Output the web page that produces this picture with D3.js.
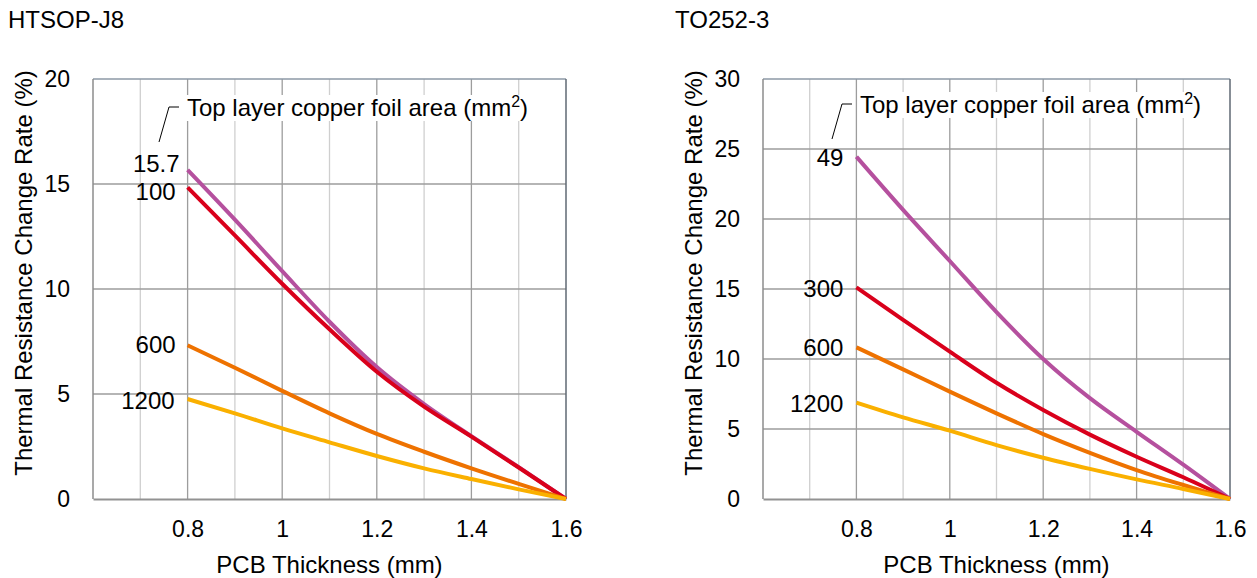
<!DOCTYPE html>
<html>
<head>
<meta charset="utf-8">
<script src="https://cdn.jsdelivr.net/npm/d3@7/dist/d3.min.js"></script>
<style>
  html, body { margin: 0; padding: 0; background: #fff; }
  svg { display: block; font-family: "Liberation Sans", Arial, sans-serif; }
</style>
</head>
<body>
<svg id="chart" width="1257" height="578"></svg>
<script>
// PCB thickness (mm) sample points shared by both packages
const thickness = [0.8, 0.9, 1.0, 1.1, 1.2, 1.3, 1.4, 1.5, 1.6];
const xTickValues = [0.8, 1, 1.2, 1.4, 1.6];

// HTSOP-J8: thermal resistance change rate (%) per top-layer copper area
const htsopAreas = ["15.7", "100", "600", "1200"];
const htsopArea15_7 = [15.67, 13.3, 10.85, 8.44, 6.28, 4.52, 2.99, 1.52, 0];
const htsopArea100  = [14.84, 12.55, 10.25, 8.08, 6.06, 4.4, 2.97, 1.5, 0];
const htsopArea600  = [7.32, 6.25, 5.15, 4.08, 3.1, 2.25, 1.46, 0.72, 0];
const htsopArea1200 = [4.76, 4.08, 3.36, 2.7, 2.05, 1.46, 0.95, 0.46, 0];
const htsopYTicks = [0, 5, 10, 15, 20];

// TO252-3
const to252Areas = ["49", "300", "600", "1200"];
const to252Area49   = [24.45, 20.65, 17.0, 13.35, 10.0, 7.2, 4.8, 2.45, 0];
const to252Area300  = [15.12, 12.79, 10.52, 8.3, 6.36, 4.6, 3.02, 1.55, 0];
const to252Area600  = [10.83, 9.26, 7.67, 6.12, 4.64, 3.3, 2.07, 1.0, 0];
const to252Area1200 = [6.88, 5.83, 4.88, 3.85, 2.95, 2.15, 1.4, 0.72, 0];
const to252YTicks = [0, 5, 10, 15, 20, 25, 30];

const seriesColors = ["#B5509E", "#D9001B", "#EE7200", "#FAB000"];

const svg = d3.select("#chart");

function drawPanel(cfg) {
  const g = svg.append("g");
  const x = d3.scaleLinear().domain([0.6, 1.6]).range([cfg.left, cfg.right]);
  const y = d3.scaleLinear().domain([0, cfg.yMax]).range([cfg.bottom, cfg.top]);

  // minor vertical grid (odd tenths)
  const minor = d3.range(7, 16, 2).map(v => v / 10);
  g.selectAll(".minor").data(minor).enter().append("line")
    .attr("x1", d => x(d)).attr("x2", d => x(d))
    .attr("y1", cfg.top).attr("y2", cfg.bottom)
    .attr("stroke", "#cfcfcf").attr("stroke-width", 1.3);

  // major vertical grid
  g.selectAll(".majorx").data([0.8, 1.0, 1.2, 1.4]).enter().append("line")
    .attr("x1", d => x(d)).attr("x2", d => x(d))
    .attr("y1", cfg.top).attr("y2", cfg.bottom)
    .attr("stroke", "#9d9d9d").attr("stroke-width", 1.3);

  // horizontal grid
  g.selectAll(".majory").data(cfg.yTicks.filter(v => v > 0 && v < cfg.yMax)).enter().append("line")
    .attr("x1", cfg.left).attr("x2", cfg.right)
    .attr("y1", d => y(d)).attr("y2", d => y(d))
    .attr("stroke", "#9d9d9d").attr("stroke-width", 1.3);

  // plot frame
  g.append("line").attr("x1", cfg.left).attr("x2", cfg.right)
    .attr("y1", cfg.top).attr("y2", cfg.top)
    .attr("stroke", "#8d98a6").attr("stroke-width", 1.5);
  g.append("line").attr("x1", cfg.left).attr("x2", cfg.left)
    .attr("y1", cfg.top).attr("y2", cfg.bottom)
    .attr("stroke", "#8c8c8c").attr("stroke-width", 1.5);
  g.append("line").attr("x1", cfg.right).attr("x2", cfg.right)
    .attr("y1", cfg.top).attr("y2", cfg.bottom)
    .attr("stroke", "#5f6873").attr("stroke-width", 1.5);

  // x axis
  const xAxis = g.append("g").attr("transform", `translate(0,${cfg.bottom})`)
    .call(d3.axisBottom(x).tickValues(xTickValues).tickSize(0).tickPadding(0)
      .tickFormat(d => d3.format("")(+d.toFixed(1))));
  xAxis.select(".domain").attr("stroke", "#929292").attr("stroke-width", 2);
  xAxis.selectAll("text").attr("font-size", 23).attr("fill", "#000")
    .attr("font-family", "Liberation Sans, Arial, sans-serif")
    .attr("dy", null).attr("y", 38);

  // y axis labels
  const yAxis = g.append("g").attr("transform", `translate(${cfg.left},0)`)
    .call(d3.axisLeft(y).tickValues(cfg.yTicks).tickSize(0).tickPadding(23));
  yAxis.select(".domain").remove();
  yAxis.selectAll("text").attr("font-size", 23).attr("fill", "#000")
    .attr("font-family", "Liberation Sans, Arial, sans-serif");

  // axis titles
  g.append("text").attr("x", (cfg.left + cfg.right) / 2).attr("y", 573)
    .attr("text-anchor", "middle").attr("font-size", 24).text("PCB Thickness (mm)");
  g.append("text")
    .attr("transform", `translate(${cfg.left - 61},273) rotate(-90)`)
    .attr("text-anchor", "middle").attr("font-size", 24)
    .text("Thermal Resistance Change Rate (%)");

  // panel title
  g.append("text").attr("x", cfg.titleX).attr("y", 28)
    .attr("font-size", 24).text(cfg.title);

  // legend caption with white backing
  const cap = g.append("text").attr("x", cfg.capX).attr("y", cfg.capY).attr("font-size", 24);
  cap.append("tspan").text("Top layer copper foil area (mm");
  cap.append("tspan").attr("font-size", 16).attr("dy", -9).text("2");
  cap.append("tspan").attr("dy", 9).text(")");
  const bb = cap.node().getBBox();
  g.insert("rect", () => cap.node())
    .attr("x", bb.x - 1).attr("y", bb.y + 2).attr("width", bb.width + 2).attr("height", bb.height - 2)
    .attr("fill", "#fff");

  // leader from caption down to the first label
  g.append("path")
    .attr("d", `M${cfg.capX - 28},${cfg.capY + 26} L${cfg.capX - 18},${cfg.capY - 9} L${cfg.capX - 8},${cfg.capY - 9}`)
    .attr("fill", "none").attr("stroke", "#000").attr("stroke-width", 1);

  // curves
  const line = d3.line().x((d, i) => x(thickness[i])).y(d => y(d)).curve(d3.curveMonotoneX);
  cfg.series.forEach((vals, k) => {
    g.append("path").datum(vals).attr("d", line)
      .attr("fill", "none").attr("stroke", seriesColors[k]).attr("stroke-width", 4);
  });

  // area labels at the start of each curve
  cfg.series.forEach((vals, k) => {
    g.append("text")
      .attr("x", x(thickness[0]) + cfg.labelDx[k])
      .attr("y", y(vals[0]) + cfg.labelDy[k])
      .attr("text-anchor", "end").attr("font-size", 24)
      .text(cfg.areas[k]);
  });
}

drawPanel({
  title: "HTSOP-J8", titleX: 8,
  left: 93, right: 566, top: 79, bottom: 499,
  yMax: 20, yTicks: htsopYTicks,
  series: [htsopArea15_7, htsopArea100, htsopArea600, htsopArea1200],
  areas: htsopAreas,
  labelDx: [-8, -12, -12, -13],
  labelDy: [2, 13, 8, 10],
  capX: 187, capY: 116
});

drawPanel({
  title: "TO252-3", titleX: 675,
  left: 763, right: 1230, top: 79, bottom: 499,
  yMax: 30, yTicks: to252YTicks,
  series: [to252Area49, to252Area300, to252Area600, to252Area1200],
  areas: to252Areas,
  labelDx: [-13, -13, -13, -13],
  labelDy: [9, 10, 9, 9],
  capX: 860, capY: 113
});
</script>
</body>
</html>
